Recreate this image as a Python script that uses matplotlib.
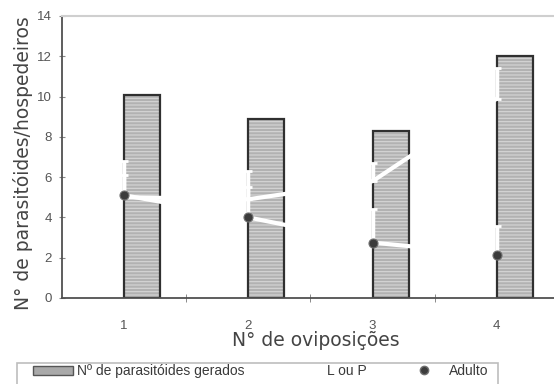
import numpy as np
import matplotlib
matplotlib.use("Agg")
import matplotlib.pyplot as plt
from matplotlib.patches import Patch, Rectangle
from matplotlib.lines import Line2D

# data
categorias = [1, 2, 3, 4]
cat_labels = ["1", "2", "3", "4"]
parasitoides = [10.1, 8.9, 8.3, 12.0]
larva_pupa = [5.0, 4.9, 5.8, 9.9]
larva_pupa_err = [1.8, 1.4, 0.9, 1.5]
adulto = [5.1, 4.0, 2.75, 2.15]
adulto_err = [1.0, 1.5, 1.65, 1.4]

plt.rcParams['font.family'] = ['Liberation Sans', 'DejaVu Sans']
plt.rcParams['hatch.linewidth'] = 0.8

fig = plt.figure(figsize=(5.54, 3.84), dpi=100)
ax = fig.add_axes([62/554, 86/384, 492/554, 282/384])

x = np.array(categorias, dtype=float)
bw = 0.29

# hatched fill, then dark outline
ax.bar(x, parasitoides, width=bw, align='edge', color='#b2b2b2',
       edgecolor='#d6d6d6', linewidth=0, hatch='-----', zorder=1)
ax.bar(x, parasitoides, width=bw, align='edge', fill=False,
       edgecolor='#303030', linewidth=1.6, zorder=2)

# L ou P (white line, only visible over the bars)
ax.errorbar(x, larva_pupa, yerr=[np.zeros(4), larva_pupa_err], color='white',
            lw=3, elinewidth=2.5, capsize=3, capthick=2, zorder=3)
# Adulto
ax.errorbar(x, adulto, yerr=[np.zeros(4), adulto_err], color='white',
            lw=3, elinewidth=2.5, capsize=3, capthick=2, zorder=3)
ax.plot(x, adulto, ls='none', marker='o', ms=6.5, mfc='#3c3c3c',
        mec='#707070', mew=0.8, zorder=4)

ax.set_xlim(0.5, 4.46)
ax.set_ylim(0, 14)
ax.set_yticks(np.arange(0, 15, 2))
ax.set_xticks(categorias)
ax.set_xticklabels(cat_labels)
ax.set_xticks([1.5, 2.5, 3.5], minor=True)

ax.tick_params(axis='x', which='major', length=0, pad=16, labelsize=9.5, labelcolor='#555555')
ax.tick_params(axis='x', which='minor', length=6, direction='inout', color='#777777')
ax.tick_params(axis='y', length=5, direction='inout', color='#888888',
               labelsize=9.5, labelcolor='#555555', pad=5)

for s in ['left', 'bottom']:
    ax.spines[s].set_color('#505050')
    ax.spines[s].set_linewidth(1.3)
ax.spines['top'].set_color('#cfcfcf')
ax.spines['top'].set_linewidth(1.5)
ax.spines['right'].set_visible(False)

ax.set_ylabel('N° de parasitóides/hospedeiros', fontsize=13.5, color='#444444',
              family='DejaVu Sans')
ax.yaxis.set_label_coords(-0.058, 0.48)
ax.set_xlabel('N° de oviposições', fontsize=13.5, color='#444444', family='DejaVu Sans')
ax.xaxis.set_label_coords(0.516, -0.118)

# legend frame (cut off by the bottom of the scan)
fig.patches.append(Rectangle((17/554, -0.05), 481/554, 0.05 + 21/384,
                             transform=fig.transFigure, fill=False,
                             edgecolor='#bdbdbd', linewidth=1.2))

handles = [
    Patch(facecolor='#a9a9a9', edgecolor='#555555', linewidth=1),
    Line2D([0], [0], color='white', lw=3),
    Line2D([0], [0], ls='none', marker='o', ms=6, mfc='#3c3c3c', mec='#707070'),
]
labels = ['Nº de parasitóides gerados', 'L ou P', 'Adulto']
leg = fig.legend(handles, labels, ncol=3, loc='center left',
                 bbox_to_anchor=(33/554, 13/384),
                 fontsize=10, frameon=False,
                 handlelength=2.9, handleheight=0.6, handletextpad=0.3,
                 columnspacing=2.7, borderaxespad=0, borderpad=0,
                 labelcolor='#3a3a3a')

fig.savefig('out.png', dpi=100)
